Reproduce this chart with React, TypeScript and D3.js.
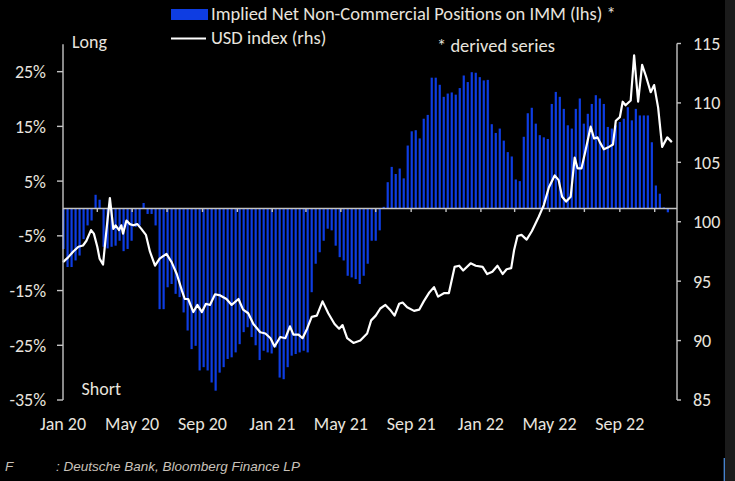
import * as d3 from 'd3';
import { useEffect } from 'react';

// weekly net positioning, % (lhs), first week starts here
const barStartDate = '2020-01-02';
const netPositions = [
  -7.4, -10.7, -10.7, -9.5, -8.6, -5.6, -3.1, -2.2, 2.5, 1.6,
  -7.0, -7.3, -7.0, -6.8, -5.9, -7.8, -7.4, -5.9, -3.4, -3.1,
  1.0, -1.0, -1.0, -3.1, -18.4, -18.4, -14.4, -13.8, -15.6, -16.2,
  -19.0, -22.3, -25.7, -25.1, -29.6, -29.0, -29.6, -31.8, -33.3, -30.0,
  -29.0, -27.5, -27.2, -26.3, -24.8, -22.6, -21.7, -23.5, -25.0, -27.7,
  -26.0, -26.3, -26.5, -25.4, -30.9, -31.2, -29.0, -26.9, -26.6, -26.3,
  -26.0, -26.3, -15.3, -10.1, -8.0, -5.9, -3.7, -4.0, -6.8, -8.9,
  -9.5, -12.3, -12.6, -12.9, -13.8, -12.3, -10.1, -5.9, -5.9, -4.0,
  0.3, 4.8, 7.6, 6.3, 7.3, 5.5, 11.5, 14.1, 14.3, 12.8,
  16.4, 17.1, 23.9, 23.9, 22.6, 20.4, 21.0, 21.2, 20.8, 22.0,
  24.3, 23.1, 24.9, 24.8, 24.0, 23.4, 23.5, 15.4, 13.8, 14.6,
  12.4, 10.3, 9.5, 5.3, 5.0, 13.1, 17.4, 18.4, 15.5, 13.4,
  13.0, 12.7, 19.1, 21.3, 20.4, 18.2, 15.2, 14.6, 18.2, 20.1,
  15.5, 17.3, 19.1, 20.7, 20.1, 19.1, 14.9, 14.6, 15.2, 15.8,
  16.4, 18.5, 16.1, 18.2, 17.0, 17.0, 17.0, 12.1, 4.2, 2.7,
  0.2, -0.7,
];

// USD index (rhs)
const usdDates = [
  '2020-01-01', '2020-01-10', '2020-01-19', '2020-01-28', '2020-02-05', '2020-02-11', '2020-02-19', '2020-02-24',
  '2020-03-01', '2020-03-05', '2020-03-11', '2020-03-17', '2020-03-23', '2020-03-29', '2020-04-02', '2020-04-08',
  '2020-04-12', '2020-04-15', '2020-04-21', '2020-04-27', '2020-05-03', '2020-05-10', '2020-05-17', '2020-05-25',
  '2020-06-01', '2020-06-10', '2020-06-18', '2020-06-30', '2020-07-09', '2020-07-18', '2020-07-27', '2020-08-01',
  '2020-08-07', '2020-08-16', '2020-08-23', '2020-08-31', '2020-09-07', '2020-09-14', '2020-09-23', '2020-10-02',
  '2020-10-13', '2020-10-22', '2020-11-03', '2020-11-11', '2020-11-20', '2020-11-29', '2020-12-11', '2020-12-20',
  '2020-12-29', '2021-01-05', '2021-01-15', '2021-01-24', '2021-02-01', '2021-02-07', '2021-02-16', '2021-02-23',
  '2021-03-03', '2021-03-11', '2021-03-20', '2021-03-30', '2021-04-09', '2021-04-20', '2021-04-28', '2021-05-04',
  '2021-05-12', '2021-05-23', '2021-06-04', '2021-06-16', '2021-06-23', '2021-07-01', '2021-07-09', '2021-07-18',
  '2021-07-26', '2021-08-03', '2021-08-11', '2021-08-17', '2021-08-25', '2021-09-06', '2021-09-15', '2021-09-23',
  '2021-10-02', '2021-10-11', '2021-10-18', '2021-10-29', '2021-11-06', '2021-11-16', '2021-11-24', '2021-12-01',
  '2021-12-14', '2021-12-23', '2022-01-04', '2022-01-12', '2022-01-21', '2022-01-30', '2022-02-08', '2022-02-15',
  '2022-02-23', '2022-02-28', '2022-03-06', '2022-03-13', '2022-03-22', '2022-03-31', '2022-04-12', '2022-04-21',
  '2022-04-30', '2022-05-10', '2022-05-17', '2022-05-23', '2022-05-30', '2022-06-07', '2022-06-14', '2022-06-19',
  '2022-06-26', '2022-07-03', '2022-07-12', '2022-07-18', '2022-07-24', '2022-07-28', '2022-08-04', '2022-08-13',
  '2022-08-20', '2022-08-25', '2022-09-01', '2022-09-06', '2022-09-11', '2022-09-20', '2022-09-26', '2022-10-03',
  '2022-10-10', '2022-10-17', '2022-10-25', '2022-10-31', '2022-11-07', '2022-11-14', '2022-11-23', '2022-12-01',
];
const usdIndex = [
  96.6, 97.0, 97.5, 97.9, 98.0, 98.4, 99.3, 99.0,
  97.9, 96.9, 96.4, 99.3, 102.0, 99.4, 99.7, 99.3,
  99.7, 99.0, 100.1, 99.8, 99.7, 99.8, 99.4, 98.9,
  97.5, 96.3, 96.9, 97.3, 96.6, 95.6, 94.2, 93.5,
  93.5, 92.4, 93.0, 92.4, 93.1, 93.0, 93.9, 93.8,
  93.5, 93.0, 93.5, 92.6, 92.3, 91.4, 90.7, 90.6,
  90.2, 89.5, 90.3, 90.2, 91.2, 90.5, 90.5, 90.2,
  91.0, 92.0, 92.1, 93.3, 92.3, 91.4, 91.0, 91.3,
  90.2, 89.8, 90.0, 90.6, 91.7, 92.1, 92.7, 93.0,
  92.6, 92.1, 93.1, 93.2, 92.8, 92.5, 92.6, 93.3,
  94.0, 94.5, 93.7, 94.0, 94.0, 96.2, 96.3, 95.9,
  96.5, 96.3, 96.2, 95.6, 95.8, 96.3, 95.6, 96.0,
  96.1, 97.6, 98.8, 98.9, 98.5, 99.2, 100.4, 101.4,
  102.9, 103.9, 103.5, 102.1, 101.7, 102.1, 105.4, 104.5,
  104.5, 106.0, 108.0, 107.0, 107.1, 106.7, 106.1, 106.3,
  106.5, 108.5, 108.8, 110.1, 109.8, 110.2, 114.0, 110.1,
  113.2, 112.2, 110.9, 111.5, 109.6, 106.3, 107.1, 106.7,
];

const leftTicks = [25, 15, 5, -5, -15, -25, -35];
const rightTicks = [115, 110, 105, 100, 95, 90, 85];
const xLabelDates = ['2020-01-01', '2020-05-01', '2020-09-01', '2021-01-01', '2021-05-01', '2021-09-01', '2022-01-01', '2022-05-01', '2022-09-01'];
const xLabels = ['Jan 20', 'May 20', 'Sep 20', 'Jan 21', 'May 21', 'Sep 21', 'Jan 22', 'May 22', 'Sep 22'];

const BLUE = '#0e3de2';
const TEXT = '#e8e4de';
const AXIS = '#c4c4c4';
const FONT = 'Calibri, Carlito, Lato, sans-serif';
const FS = 18;

export default function App() {
  useEffect(() => {
    document.body.style.margin = '0';
    document.body.style.background = '#000';
  }, []);

  const width = 735;
  const height = 481;
  const left = 63;
  const right = 677;

  const x = d3.scaleUtc()
    .domain([new Date('2020-01-01'), new Date('2022-12-10')])
    .range([left, right]);
  const yL = d3.scaleLinear().domain([-35, 30]).range([400, 44.3]);
  const yR = d3.scaleLinear().domain([85, 115]).range([400, 43.5]);

  const start = new Date(barStartDate);
  const bars = netPositions.map((v, i) => ({ date: d3.utcDay.offset(start, 7 * i), v }));
  const usd = usdDates.map((d, i) => ({ date: new Date(d), v: usdIndex[i] }));

  const line = d3.line<{ date: Date; v: number }>()
    .x(d => x(d.date))
    .y(d => yR(d.v));

  const zeroTicks = d3.utcMonth.every(2)!.range(new Date('2020-03-01'), new Date('2022-12-02'));
  const barW = 2.2;

  return (
    <svg width={width} height={height} style={{ display: 'block', background: '#000' }} fontFamily={FONT}>
      <rect x={0} y={0} width={width} height={height} fill="#000" />
      <rect x={725} y={0} width={10} height={height} fill="#1b1b1b" />
      <line x1={724.3} x2={724.3} y1={458} y2={481} stroke="#4a8ad8" strokeWidth={1.3} />

      {/* Bars */}
      {bars.map((b, i) => (
        <rect
          key={i}
          x={x(b.date) - barW / 2}
          y={Math.min(yL(b.v), yL(0))}
          width={barW}
          height={Math.abs(yL(b.v) - yL(0))}
          fill={BLUE}
        />
      ))}

      {/* Zero line with 2-month ticks */}
      <line x1={left} x2={right} y1={yL(0)} y2={yL(0)} stroke={AXIS} strokeWidth={1.4} />
      {zeroTicks.map((d, i) => (
        <line key={i} x1={x(d)} x2={x(d)} y1={yL(0)} y2={yL(0) + 3.5} stroke={AXIS} strokeWidth={1.4} />
      ))}

      {/* USD line */}
      <path d={line(usd) || ''} fill="none" stroke="#fff" strokeWidth={2.2} strokeLinejoin="round" />

      {/* Left axis */}
      <line x1={left} x2={left} y1={yL(30)} y2={yL(-35)} stroke={AXIS} strokeWidth={1.4} />
      {leftTicks.map(t => (
        <g key={t}>
          <line x1={left - 6} x2={left} y1={yL(t)} y2={yL(t)} stroke={AXIS} strokeWidth={1.4} />
          <text x={46} y={yL(t)} dy="0.36em" textAnchor="end" fontSize={FS} fill={TEXT}>{`${t}%`}</text>
        </g>
      ))}

      {/* Right axis */}
      <line x1={right} x2={right} y1={yR(115)} y2={yR(85)} stroke={AXIS} strokeWidth={1.4} />
      {rightTicks.map(t => (
        <g key={t}>
          <line x1={right} x2={right + 4} y1={yR(t)} y2={yR(t)} stroke={AXIS} strokeWidth={1.4} />
          <text x={693} y={yR(t)} dy="0.36em" fontSize={FS} fill={TEXT}>{t}</text>
        </g>
      ))}

      {/* X labels */}
      {xLabels.map((l, i) => (
        <text key={l} x={x(new Date(xLabelDates[i]))} y={430} textAnchor="middle" fontSize={FS} fill={TEXT}>{l}</text>
      ))}

      {/* Legend */}
      <rect x={171} y={9} width={37} height={11} fill={BLUE} />
      <text x={211} y={19.5} fontSize={18.5} fill={TEXT}>Implied Net Non-Commercial Positions on IMM (lhs) *</text>
      <line x1={171} x2={206} y1={38.5} y2={38.5} stroke="#fff" strokeWidth={2.2} />
      <text x={211} y={44} fontSize={18.5} fill={TEXT}>USD index (rhs)</text>

      <text x={72} y={48} fontSize={FS} fill={TEXT}>Long</text>
      <text x={81.5} y={395} fontSize={FS} fill={TEXT}>Short</text>
      <text x={437} y={52} fontSize={18.5} fill={TEXT}>* derived series</text>

      {/* Footer */}
      <text x={5} y={471} fontSize={13.5} fontStyle="italic" fontFamily="'Liberation Sans', Arial, sans-serif" fill="#c9c2ba">F</text>
      <text x={56} y={471} fontSize={13.5} fontStyle="italic" fontFamily="'Liberation Sans', Arial, sans-serif" fill="#c9c2ba">: Deutsche Bank, Bloomberg Finance LP</text>
    </svg>
  );
}
